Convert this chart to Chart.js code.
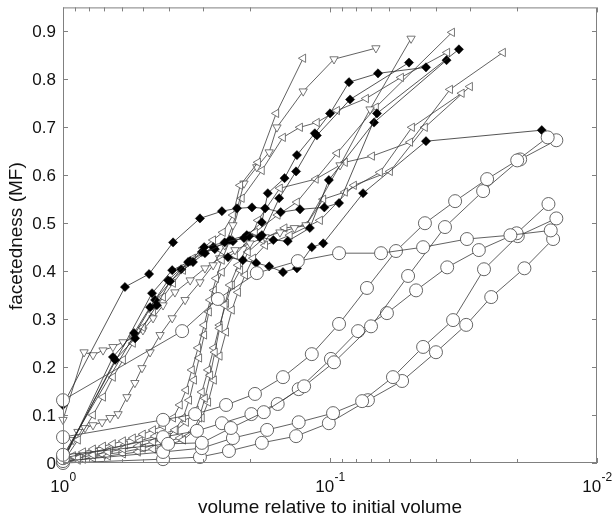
<!DOCTYPE html>
<html>
<head>
<meta charset="utf-8">
<title>facetedness vs volume</title>
<script src="https://cdn.jsdelivr.net/npm/chart.js@4.4.1/dist/chart.umd.min.js"></script>
<style>
  html, body { margin: 0; background: #fff; }
  #wrap { width: 615px; height: 517px; }
</style>
</head>
<body>
<div id="wrap"><canvas id="chart"></canvas></div>
<script>
// axis ticks
const yTicks = [0, 0.1, 0.2, 0.3, 0.4, 0.5, 0.6, 0.7, 0.8, 0.9];
const yTickLabels = ['0', '0.1', '0.2', '0.3', '0.4', '0.5', '0.6', '0.7', '0.8', '0.9'];
const xMajor = [1, 0.1, 0.01];
const xExponents = ['0', '-1', '-2'];
const xMinor = [0.9, 0.8, 0.7, 0.6, 0.5, 0.4, 0.3, 0.2, 0.09, 0.08, 0.07, 0.06, 0.05, 0.04, 0.03, 0.02];

// open circles
const cA_vol = [1, 0.358, 0.263, 0.188, 0.132, 0.0925, 0.0644, 0.0448, 0.0307, 0.0211, 0.0149];
const cA_mf  = [0.131, 0.275, 0.342, 0.396, 0.421, 0.4375, 0.4375, 0.45, 0.467, 0.475, 0.485];
const cB_vol = [1, 0.422, 0.320, 0.245, 0.191, 0.150, 0.117, 0.0925, 0.0727, 0.0566, 0.0441, 0.0340, 0.0258, 0.0199, 0.0153];
const cB_mf  = [0.054, 0.090, 0.102, 0.121, 0.144, 0.179, 0.227, 0.290, 0.365, 0.442, 0.500, 0.546, 0.592, 0.631, 0.679];
const cC_vol = [1, 0.404, 0.302, 0.235, 0.177, 0.125, 0.0966, 0.0702, 0.0510, 0.0371, 0.0267, 0.0194, 0.0142];
const cC_mf  = [0.017, 0.040, 0.042, 0.073, 0.106, 0.160, 0.210, 0.285, 0.390, 0.492, 0.567, 0.633, 0.673];
const cD_vol = [1, 0.422, 0.315, 0.254, 0.197, 0.157, 0.131, 0.0992, 0.0785, 0.0612, 0.0476, 0.0364, 0.0277, 0.0200, 0.0152];
const cD_mf  = [0.010, 0.054, 0.067, 0.083, 0.102, 0.123, 0.154, 0.217, 0.275, 0.3125, 0.360, 0.408, 0.444, 0.479, 0.540];
const cE_vol = [1, 0.422, 0.302, 0.231, 0.172, 0.131, 0.0974, 0.0758, 0.0581, 0.0448, 0.0346, 0.0265, 0.0198, 0.0142];
const cE_mf  = [0.004, 0.023, 0.031, 0.052, 0.069, 0.085, 0.104, 0.129, 0.179, 0.242, 0.298, 0.404, 0.473, 0.510];
const cF_vol = [1, 0.422, 0.307, 0.239, 0.180, 0.134, 0.101, 0.0721, 0.0537, 0.0401, 0.0309, 0.0249, 0.0187, 0.0146];
const cF_mf  = [0, 0.008, 0.0125, 0.025, 0.042, 0.056, 0.083, 0.131, 0.171, 0.231, 0.288, 0.346, 0.406, 0.467];

// filled diamonds
const dA_vol = [1, 0.586, 0.476, 0.387, 0.307, 0.254, 0.223, 0.196, 0.175, 0.153, 0.1295, 0.105, 0.0925, 0.0667, 0.0329];
const dA_mf  = [0.121, 0.367, 0.394, 0.460, 0.510, 0.525, 0.531, 0.533, 0.531, 0.523, 0.529, 0.533, 0.542, 0.729, 0.8625];
const dB_vol = [1, 0.650, 0.542, 0.472, 0.404, 0.340, 0.296, 0.248, 0.210, 0.180, 0.171, 0.148, 0.133, 0.114, 0.100, 0.0849, 0.0661, 0.0437];
const dB_mf  = [0.002, 0.221, 0.271, 0.325, 0.381, 0.419, 0.450, 0.460, 0.469, 0.502, 0.5625, 0.594, 0.642, 0.6875, 0.729, 0.794, 0.8125, 0.825];
const dC_vol = [1, 0.638, 0.537, 0.445, 0.397, 0.326, 0.294, 0.237, 0.205, 0.180, 0.155, 0.134, 0.112, 0.0841, 0.0506];
const dC_mf  = [0.006, 0.215, 0.260, 0.329, 0.379, 0.419, 0.4375, 0.465, 0.475, 0.475, 0.552, 0.608, 0.683, 0.758, 0.835];
const dD_vol = [1, 0.464, 0.390, 0.334, 0.274, 0.231, 0.201, 0.183, 0.163, 0.144, 0.119, 0.101, 0.0684, 0.0366];
const dD_mf  = [0.010, 0.354, 0.402, 0.421, 0.450, 0.4625, 0.473, 0.471, 0.465, 0.4625, 0.490, 0.590, 0.710, 0.840];
const dE_vol = [1, 0.452, 0.361, 0.302, 0.270, 0.241, 0.212, 0.189, 0.169, 0.150, 0.133, 0.117, 0.106, 0.0752, 0.0437, 0.0161];
const dE_mf  = [0.015, 0.340, 0.404, 0.440, 0.446, 0.429, 0.423, 0.417, 0.410, 0.398, 0.406, 0.450, 0.458, 0.5625, 0.671, 0.694];

// open triangles
const tA_vol = [1, 0.879, 0.772, 0.708, 0.650, 0.596, 0.547, 0.502, 0.460, 0.422, 0.387, 0.355, 0.326, 0.299, 0.274, 0.252, 0.231, 0.217, 0.186, 0.159, 0.126];
const tA_mf  = [0.002, 0.048, 0.100, 0.1375, 0.179, 0.215, 0.250, 0.283, 0.315, 0.346, 0.375, 0.402, 0.427, 0.448, 0.465, 0.481, 0.517, 0.579, 0.627, 0.729, 0.844];
const tB_vol = [1, 0.917, 0.879, 0.827, 0.772, 0.714, 0.667, 0.622, 0.576, 0.538, 0.506, 0.472, 0.433, 0.390, 0.349, 0.307, 0.274, 0.248, 0.231, 0.210, 0.188, 0.169, 0.158, 0.126, 0.0966, 0.0673];
const tB_mf  = [0.006, 0.048, 0.065, 0.073, 0.079, 0.085, 0.094, 0.102, 0.1375, 0.167, 0.198, 0.231, 0.267, 0.302, 0.340, 0.377, 0.4125, 0.454, 0.496, 0.583, 0.617, 0.648, 0.700, 0.775, 0.842, 0.865];
const tC_vol = [1, 0.917, 0.841, 0.772, 0.708, 0.650, 0.596, 0.547, 0.502, 0.460, 0.422, 0.387, 0.365, 0.346, 0.329, 0.312, 0.296, 0.281, 0.267, 0.254, 0.237, 0.214, 0.180, 0.150, 0.1295, 0.112, 0.0941, 0.0733, 0.0542, 0.0364];
const tC_mf  = [0.004, 0.015, 0.023, 0.029, 0.035, 0.040, 0.046, 0.052, 0.060, 0.069, 0.077, 0.094, 0.121, 0.152, 0.194, 0.240, 0.2875, 0.340, 0.385, 0.423, 0.465, 0.552, 0.610, 0.679, 0.700, 0.710, 0.735, 0.760, 0.804, 0.856];
const tD_vol = [1, 0.834, 0.772, 0.708, 0.650, 0.596, 0.547, 0.502, 0.460, 0.422, 0.381, 0.334, 0.294, 0.259, 0.227, 0.1995, 0.175, 0.154, 0.136, 0.123, 0.0917, 0.0708, 0.0497];
const tD_mf  = [0.090, 0.231, 0.225, 0.235, 0.242, 0.252, 0.260, 0.277, 0.302, 0.329, 0.356, 0.381, 0.406, 0.427, 0.444, 0.458, 0.471, 0.481, 0.490, 0.496, 0.621, 0.7375, 0.885];
const tE_vol = [1, 0.879, 0.772, 0.678, 0.596, 0.524, 0.460, 0.404, 0.381, 0.355, 0.337, 0.323, 0.309, 0.296, 0.284, 0.272, 0.254, 0.227, 0.191, 0.157, 0.133, 0.0941, 0.0673, 0.0349];
const tE_mf  = [0.002, 0.010, 0.017, 0.023, 0.029, 0.035, 0.044, 0.054, 0.069, 0.094, 0.131, 0.173, 0.219, 0.267, 0.315, 0.360, 0.398, 0.433, 0.481, 0.517, 0.544, 0.646, 0.742, 0.898];
const tF_vol = [1, 0.879, 0.772, 0.678, 0.596, 0.524, 0.460, 0.404, 0.355, 0.326, 0.309, 0.294, 0.281, 0.270, 0.259, 0.248, 0.237, 0.221, 0.203, 0.186, 0.154, 0.113, 0.0879, 0.0696, 0.0501, 0.0355, 0.0225];
const tF_mf  = [0, 0.006, 0.0104, 0.0146, 0.019, 0.023, 0.029, 0.0375, 0.048, 0.065, 0.094, 0.135, 0.183, 0.231, 0.281, 0.329, 0.371, 0.4125, 0.454, 0.506, 0.573, 0.592, 0.627, 0.640, 0.669, 0.779, 0.856];
const tG_vol = [1, 0.864, 0.759, 0.667, 0.586, 0.515, 0.452, 0.378, 0.346, 0.318, 0.302, 0.286, 0.272, 0.259, 0.245, 0.233, 0.217, 0.203, 0.180, 0.148, 0.123, 0.106, 0.0879, 0.0650, 0.0493, 0.0321];
const tG_mf  = [0.004, 0.015, 0.023, 0.029, 0.0375, 0.046, 0.056, 0.069, 0.085, 0.110, 0.148, 0.194, 0.240, 0.2875, 0.333, 0.371, 0.402, 0.440, 0.465, 0.490, 0.496, 0.550, 0.565, 0.606, 0.700, 0.771];
const tH_vol = [1, 0.841, 0.708, 0.596, 0.502, 0.441, 0.365, 0.321, 0.302, 0.286, 0.272, 0.259, 0.245, 0.233, 0.221, 0.208, 0.194, 0.175, 0.1415, 0.109, 0.0813, 0.0596, 0.0441, 0.0299];
const tH_mf  = [0.002, 0.008, 0.017, 0.023, 0.031, 0.040, 0.052, 0.069, 0.094, 0.127, 0.173, 0.223, 0.273, 0.319, 0.356, 0.392, 0.427, 0.454, 0.475, 0.506, 0.579, 0.608, 0.700, 0.785];

const FONT = '"Liberation Sans", Arial, Helvetica, sans-serif';

function toPoints(vol, mf) {
  return vol.map((v, i) => ({ x: v, y: mf[i] }));
}

function circleSet(vol, mf) {
  return {
    data: toPoints(vol, mf),
    showLine: true,
    borderColor: '#3a3a3a',
    borderWidth: 0.8,
    pointStyle: 'circle',
    pointRadius: 6.5,
    pointHoverRadius: 6.5,
    pointBackgroundColor: '#fff',
    pointBorderColor: '#555',
    pointBorderWidth: 0.9,
    clip: false
  };
}

function diamondSet(vol, mf) {
  return {
    data: toPoints(vol, mf),
    showLine: true,
    borderColor: '#2a2a2a',
    borderWidth: 0.8,
    pointStyle: 'rectRot',
    pointRadius: 4.6,
    pointHoverRadius: 4.6,
    pointBackgroundColor: '#000',
    pointBorderColor: '#000',
    pointBorderWidth: 0.5,
    clip: false
  };
}

function triangleSet(vol, mf, rot) {
  return {
    data: toPoints(vol, mf),
    showLine: true,
    borderColor: '#3a3a3a',
    borderWidth: 0.8,
    pointStyle: 'triangle',
    pointRotation: rot,
    pointRadius: 4.8,
    pointHoverRadius: 4.8,
    pointBackgroundColor: '#fff',
    pointBorderColor: '#555',
    pointBorderWidth: 0.8,
    clip: false
  };
}

const datasets = [
  circleSet(cA_vol, cA_mf), circleSet(cB_vol, cB_mf), circleSet(cC_vol, cC_mf),
  circleSet(cD_vol, cD_mf), circleSet(cE_vol, cE_mf), circleSet(cF_vol, cF_mf),
  diamondSet(dA_vol, dA_mf), diamondSet(dB_vol, dB_mf), diamondSet(dC_vol, dC_mf),
  diamondSet(dD_vol, dD_mf), diamondSet(dE_vol, dE_mf),
  triangleSet(tA_vol, tA_mf, -90), triangleSet(tB_vol, tB_mf, 180), triangleSet(tC_vol, tC_mf, -90),
  triangleSet(tD_vol, tD_mf, 180), triangleSet(tE_vol, tE_mf, -90), triangleSet(tF_vol, tF_mf, -90),
  triangleSet(tG_vol, tG_mf, -90), triangleSet(tH_vol, tH_mf, -90)
];

// box, inward ticks and labels (matlab style)
const matlabAxes = {
  id: 'matlabAxes',
  afterDatasetsDraw(chart) {
    const { ctx, chartArea: a, scales: { x, y } } = chart;
    ctx.save();
    ctx.strokeStyle = '#808080';
    ctx.lineWidth = 1;
    ctx.strokeRect(a.left + 0.5, a.top + 0.5, a.right - a.left - 1, a.bottom - a.top - 1);
    ctx.beginPath();
    xMajor.concat(xMinor).forEach(v => {
      const px = Math.round(x.getPixelForValue(v)) + 0.5;
      const len = xMajor.includes(v) ? 5 : 4;
      ctx.moveTo(px, a.bottom); ctx.lineTo(px, a.bottom - len);
      ctx.moveTo(px, a.top); ctx.lineTo(px, a.top + len);
    });
    yTicks.forEach(v => {
      const py = Math.round(y.getPixelForValue(v)) + 0.5;
      ctx.moveTo(a.left, py); ctx.lineTo(a.left + 5, py);
      ctx.moveTo(a.right, py); ctx.lineTo(a.right - 5, py);
    });
    ctx.stroke();
    ctx.restore();
  },
  afterDraw(chart) {
    const { ctx, chartArea: a, scales: { x, y } } = chart;
    ctx.save();
    ctx.fillStyle = '#111';
    ctx.font = '17px ' + FONT;
    ctx.textAlign = 'right';
    ctx.textBaseline = 'middle';
    yTicks.forEach((v, i) => {
      ctx.fillText(yTickLabels[i], a.left - 7, y.getPixelForValue(v) + 1);
    });

    ctx.textAlign = 'left';
    ctx.textBaseline = 'alphabetic';
    xMajor.forEach((v, i) => {
      const px = x.getPixelForValue(v);
      ctx.font = '17px ' + FONT;
      const w1 = ctx.measureText('10').width;
      ctx.font = '12px ' + FONT;
      const w2 = ctx.measureText(xExponents[i]).width;
      const left = px - (w1 + w2) / 2;
      ctx.font = '17px ' + FONT;
      ctx.fillText('10', left, 492);
      ctx.font = '12px ' + FONT;
      ctx.fillText(xExponents[i], left + w1 + 0.5, 481);
    });

    ctx.font = '19px ' + FONT;
    ctx.textAlign = 'center';
    ctx.fillText('volume relative to initial volume', (a.left + a.right) / 2, 513);

    ctx.translate(17, (a.top + a.bottom) / 2 + 1);
    ctx.rotate(-Math.PI / 2);
    ctx.textBaseline = 'middle';
    ctx.fillText('facetedness (MF)', 0, 0);
    ctx.restore();
  }
};

new Chart(document.getElementById('chart'), {
  type: 'scatter',
  data: { datasets },
  options: {
    responsive: true,
    maintainAspectRatio: false,
    animation: false,
    layout: { padding: { top: 7, right: 18, left: 0, bottom: 0 } },
    plugins: { legend: { display: false }, tooltip: { enabled: false } },
    scales: {
      x: {
        type: 'logarithmic',
        reverse: true,
        min: 0.01,
        max: 1,
        ticks: { display: false },
        grid: { display: false, drawTicks: false },
        border: { display: false },
        afterFit(s) { s.height = 54; }
      },
      y: {
        min: 0,
        max: 0.95,
        ticks: { display: false },
        grid: { display: false, drawTicks: false },
        border: { display: false },
        afterFit(s) { s.width = 63; }
      }
    }
  },
  plugins: [matlabAxes]
});
</script>
</body>
</html>
